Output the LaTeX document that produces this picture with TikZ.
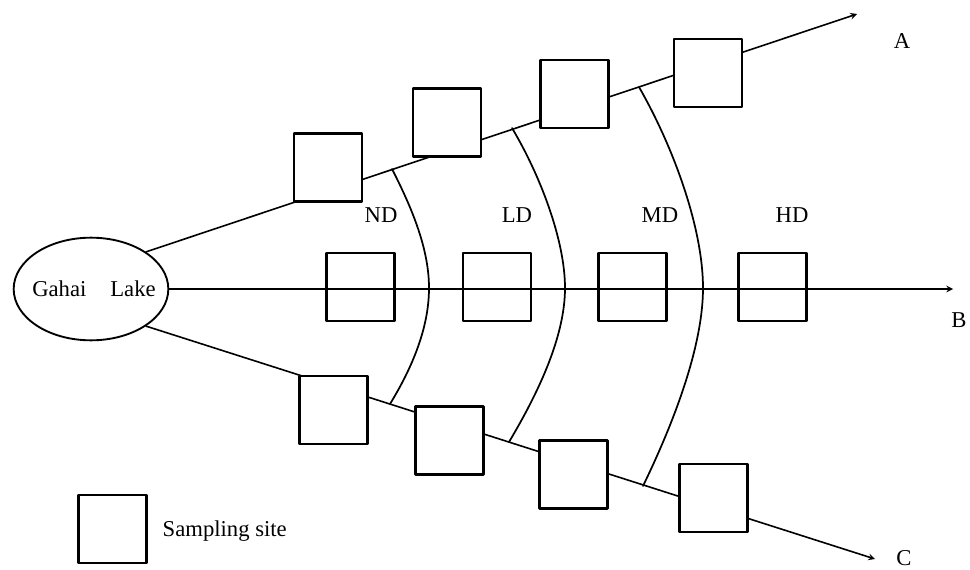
\documentclass[tikz,border=0pt]{standalone}
\usepackage{fontspec}
\setmainfont{Liberation Serif}
\usetikzlibrary{shapes.geometric}
\tikzset{
  site/.style={draw,fill=white,line width=1.7pt,minimum size=51pt,inner sep=0pt},
  route/.style={->,line width=1.2pt},
  zone/.style={line width=1.3pt}
}
\begin{document}
\begin{tikzpicture}[x=.75pt,y=-.75pt,line join=round,line cap=round,>=stealth,font=\fontsize{17}{20}\selectfont]
  \useasboundingbox (0,0) rectangle (970,570);
  \node[ellipse,draw,line width=1.4pt,minimum width=116pt,minimum height=77pt,inner sep=0pt] (lake) at (91,289) {};
  \node (laketext) at (94,289) {Gahai\hspace{18pt}Lake};
  \coordinate (endA) at (857,14);
  \coordinate (endB) at (953,289);
  \coordinate (endC) at (875,559);
  \draw[route] (lake.34) -- (endA);
  \draw[route] (lake.-34) -- (endC);
  % sampling sites along A and C
  \node[site] (a1) at (328,167.5) {};
  \node[site] (a2) at (447,122.5) {};
  \node[site] (a3) at (574.5,94) {};
  \node[site] (a4) at (708,73) {};
  \node[site] (c1) at (333.5,410) {};
  \node[site] (c2) at (449.5,440.5) {};
  \node[site] (c3) at (573.5,474.5) {};
  \node[site] (c4) at (713.5,498) {};
  % along B, line runs through
  \node[site,fill=none] (b1) at (360.5,287) {};
  \node[site,fill=none] (b2) at (497,287) {};
  \node[site,fill=none] (b3) at (632.5,287) {};
  \node[site,fill=none] (b4) at (772.5,287) {};
  \draw[route] (lake) -- (endB);
  % zone borders
  \draw[zone] (392,169) .. controls (413,210) and (429,250) .. (429,288)
              .. controls (429,328) and (412,368) .. (390,404);
  \draw[zone] (512,128) .. controls (540,175) and (565,240) .. (565,288)
              .. controls (565,335) and (540,390) .. (509,442);
  \draw[zone] (639,87) .. controls (675,150) and (703,230) .. (703,288)
              .. controls (703,345) and (675,420) .. (643,486);
  \node (nd) at (381,215) {ND};
  \node (ld) at (517,215) {LD};
  \node (md) at (660,215) {MD};
  \node (hd) at (792,215) {HD};
  \node (la) at (902,41) {A};
  \node (lb) at (959,320) {B};
  \node[inner sep=1pt] (lc) at (904,558) {C};
  % legend
  \node[site] (key) at (112.5,529) {};
  \node[anchor=west] (keytext) at (158,531) {Sampling site};
\end{tikzpicture}
\end{document}
